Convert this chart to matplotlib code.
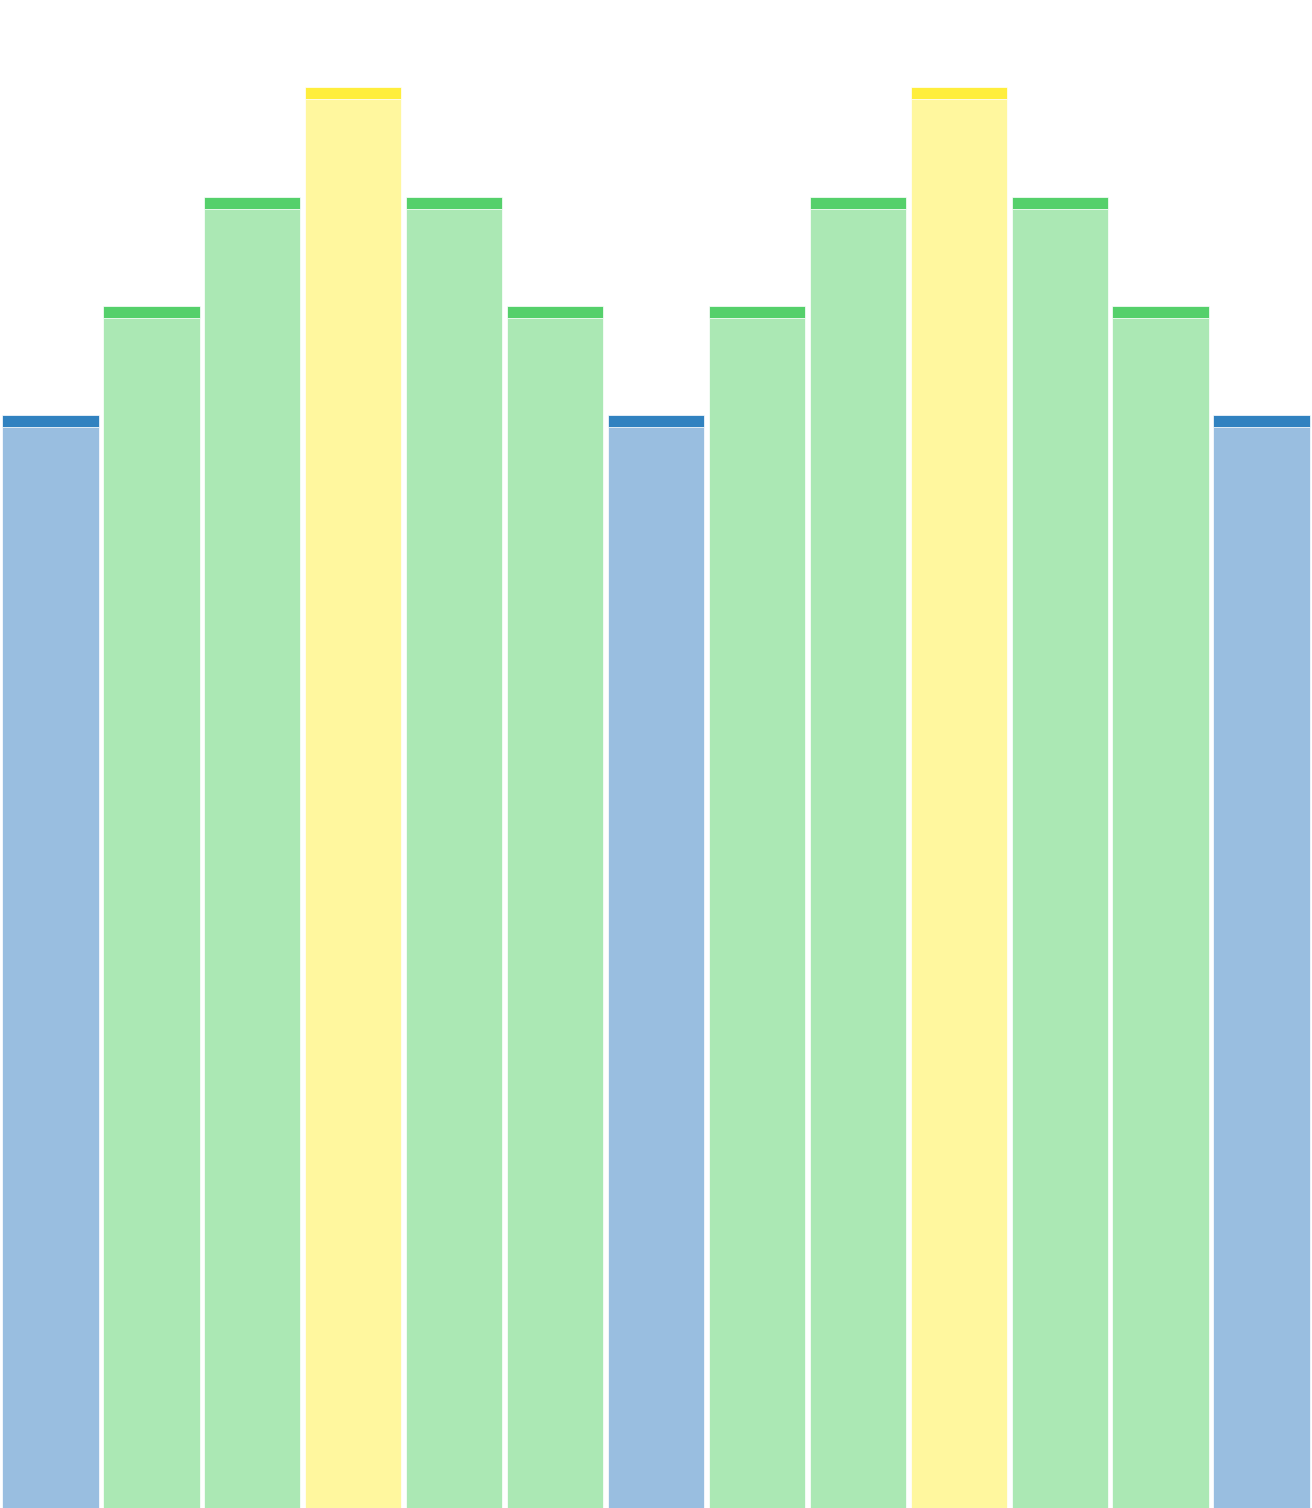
import numpy as np
import matplotlib
matplotlib.use("Agg")
import matplotlib.pyplot as plt

values = [10, 11, 12, 13, 12, 11, 10, 11, 12, 13, 12, 11, 10]
groups = ["low", "mid", "mid", "peak", "mid", "mid", "low",
          "mid", "mid", "peak", "mid", "mid", "low"]
cap_height = 0.11

fill_colors = {"low": "#99bee0", "mid": "#abe8b4", "peak": "#fff79e"}
cap_colors = {"low": "#3182c0", "mid": "#55d06b", "peak": "#ffee3c"}

fig = plt.figure(figsize=(13.12, 15.08), dpi=100)
ax = fig.add_axes([0, 0, 1, 1])

x = np.arange(len(values))
body = [v - cap_height for v in values]
ax.bar(x, body, width=0.955, color=[fill_colors[g] for g in groups],
       edgecolor="white", linewidth=0.5)
ax.bar(x, [cap_height] * len(values), bottom=body, width=0.955,
       color=[cap_colors[g] for g in groups], edgecolor="white", linewidth=0.5)

ax.set_xlim(-0.5, len(values) - 0.5)
ax.set_ylim(0, 13.8)
ax.axis("off")

fig.savefig("out.png", dpi=100)
